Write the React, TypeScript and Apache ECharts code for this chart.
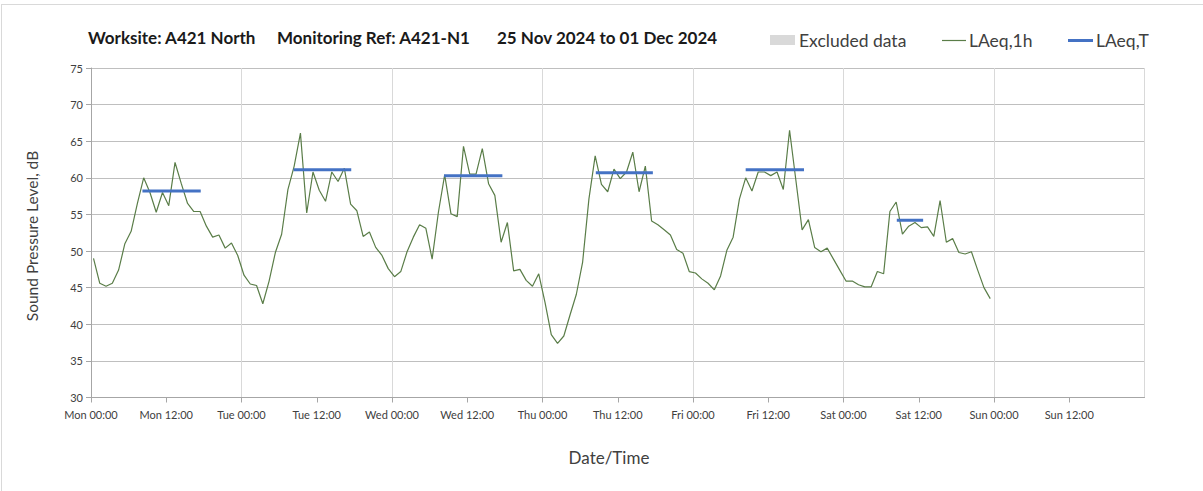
import React, { useEffect, useRef } from "react";
import * as echarts from "echarts";

// Hourly LAeq,1h values (dB), one per hour starting Mon 00:00
const laeq1h: number[] = [
  // Mon
  49, 45.6, 45.2, 45.6, 47.4, 51, 52.7, 56.5, 60, 58, 55.3, 58, 56.2, 62.1, 59.2, 56.5,
  55.4, 55.4, 53.4, 51.9, 52.2, 50.4, 51.1, 49.4,
  // Tue
  46.7, 45.5, 45.3, 42.8, 45.9, 49.8, 52.3, 58.4, 61.6, 66.1, 55.2, 60.8, 58.3, 56.8, 60.8, 59.5,
  61.3, 56.4, 55.5, 52, 52.6, 50.5, 49.4, 47.6,
  // Wed
  46.5, 47.2, 49.9, 51.9, 53.6, 53.1, 48.9, 55.3, 60.4, 55.1, 54.7, 64.3, 60.5, 60.5, 64, 59.2,
  57.6, 51.2, 53.9, 47.3, 47.5, 46, 45.2, 46.9,
  // Thu
  43, 38.6, 37.4, 38.4, 41.3, 44.1, 48.5, 57.1, 63, 59.1, 58.1, 61.2, 59.9, 60.8, 63.5, 58.1,
  61.6, 54.1, 53.6, 52.9, 52.2, 50.2, 49.7, 47.2,
  // Fri
  47, 46.2, 45.6, 44.7, 46.6, 50.1, 51.9, 57.1, 60, 58.2, 60.8, 60.8, 60.3, 60.8, 58.4, 66.5,
  59.7, 52.9, 54.3, 50.5, 49.9, 50.4, 48.9, 47.4,
  // Sat
  45.9, 45.9, 45.4, 45.1, 45.1, 47.2, 46.9, 55.4, 56.7, 52.3, 53.4, 53.9, 53.2, 53.3, 52, 56.9,
  51.2, 51.7, 49.8, 49.6, 49.9, 47.4, 45, 43.5,
];

// LAeq,T periods (hours from Mon 00:00) and values (dB)
const laeqTStart: number[] = [8.2, 32.3, 56.3, 80.5, 104.4, 128.5];
const laeqTEnd: number[] = [17.5, 41.5, 65.6, 89.6, 113.7, 132.7];
const laeqTValues: number[] = [58.2, 61.1, 60.3, 60.7, 61.1, 54.2];

// X tick labels every 12 hours
const xTickLabels: string[] = [
  "Mon 00:00", "Mon 12:00", "Tue 00:00", "Tue 12:00", "Wed 00:00", "Wed 12:00",
  "Thu 00:00", "Thu 12:00", "Fri 00:00", "Fri 12:00", "Sat 00:00", "Sat 12:00",
  "Sun 00:00", "Sun 12:00",
];

const titleParts: string[] = [
  "Worksite: A421 North",
  "Monitoring Ref: A421-N1",
  "25 Nov 2024 to 01 Dec 2024",
];
const legendNames: string[] = ["Excluded data", "LAeq,1h", "LAeq,T"];

const X_SHIFT = 0.4; // hourly values plotted slightly after the hour start
const GREEN = "#5a7d48";
const BLUE = "#4472C4";
const FONT = "Lato, 'Open Sans', sans-serif";

export default function App() {
  const ref = useRef<HTMLDivElement>(null);

  useEffect(() => {
    if (!ref.current) return;
    const chart = echarts.init(ref.current, undefined, { renderer: "svg" });

    const mainData = laeq1h.map((v, i) => [i + X_SHIFT, v]);
    const tSeries = laeqTValues.map((v, i) => ({
      name: "LAeq,T",
      type: "line",
      xAxisIndex: 0,
      yAxisIndex: 0,
      data: [
        [laeqTStart[i], v],
        [laeqTEnd[i], v],
      ],
      showSymbol: false,
      symbol: "none",
      lineStyle: { color: BLUE, width: 3, cap: "butt" },
      z: 5,
    }));

    chart.setOption({
      animation: false,
      backgroundColor: "#ffffff",
      grid: { left: 91, right: 58.5, top: 68, bottom: 93.5, containLabel: false },
      xAxis: [
        {
          type: "value",
          min: 0,
          max: 168,
          interval: 12,
          axisLine: { show: true, lineStyle: { color: "#a6a6a6", width: 1 } },
          axisTick: { show: true, length: 5, inside: false, lineStyle: { color: "#a6a6a6" } },
          axisLabel: {
            show: true,
            margin: 11,
            color: "#404040",
            fontFamily: FONT,
            fontSize: 11,
            formatter: (v: number) => xTickLabels[Math.round(v / 12)] ?? "",
            showMaxLabel: false,
          },
          splitLine: { show: false },
        },
        {
          type: "value",
          min: 0,
          max: 168,
          interval: 24,
          position: "bottom",
          axisLine: { show: false },
          axisTick: { show: false },
          axisLabel: { show: false },
          splitLine: { show: true, lineStyle: { color: "#d9d9d9", width: 1 } },
        },
      ],
      yAxis: {
        type: "value",
        min: 30,
        max: 75,
        interval: 5,
        axisLine: { show: true, lineStyle: { color: "#a6a6a6", width: 1 } },
        axisTick: { show: true, length: 5, inside: false, lineStyle: { color: "#a6a6a6" } },
        axisLabel: { color: "#404040", fontFamily: FONT, fontSize: 11, margin: 8 },
        splitLine: { show: true, lineStyle: { color: "#bfbfbf", width: 1 } },
      },
      series: [
        {
          name: "LAeq,1h",
          type: "line",
          xAxisIndex: 0,
          yAxisIndex: 0,
          data: mainData,
          showSymbol: false,
          symbol: "none",
          lineStyle: { color: GREEN, width: 1.2 },
          z: 4,
        },
        ...tSeries,
      ],
      graphic: [
        // outer border (top/left visible)
        { type: "line", shape: { x1: 1, y1: 4.5, x2: 1203, y2: 4.5 }, style: { stroke: "#d9d9d9", lineWidth: 1 } },
        { type: "line", shape: { x1: 1.5, y1: 4, x2: 1.5, y2: 491 }, style: { stroke: "#d9d9d9", lineWidth: 1 } },
        // title
        { type: "text", x: 88, y: 37, style: { text: titleParts[0], fill: "#1a1a1a", font: `bold 17px ${FONT}`, verticalAlign: "middle" } },
        { type: "text", x: 277, y: 37, style: { text: titleParts[1], fill: "#1a1a1a", font: `bold 17px ${FONT}`, verticalAlign: "middle" } },
        { type: "text", x: 497, y: 37, style: { text: titleParts[2], fill: "#1a1a1a", font: `bold 17px ${FONT}`, verticalAlign: "middle" } },
        // legend
        { type: "rect", shape: { x: 770, y: 35, width: 25, height: 10 }, style: { fill: "#d9d9d9" } },
        { type: "text", x: 799, y: 40.5, style: { text: legendNames[0], fill: "#404040", font: `17.5px ${FONT}`, verticalAlign: "middle" } },
        { type: "line", shape: { x1: 942, y1: 40.5, x2: 966, y2: 40.5 }, style: { stroke: GREEN, lineWidth: 1.2 } },
        { type: "text", x: 969, y: 40.5, style: { text: legendNames[1], fill: "#404040", font: `17.5px ${FONT}`, verticalAlign: "middle" } },
        { type: "line", shape: { x1: 1068, y1: 40.5, x2: 1093, y2: 40.5 }, style: { stroke: BLUE, lineWidth: 3 } },
        { type: "text", x: 1096, y: 40.5, style: { text: legendNames[2], fill: "#404040", font: `17.5px ${FONT}`, verticalAlign: "middle" } },
        // axis names
        { type: "text", x: 609, y: 457, style: { text: "Date/Time", fill: "#404040", font: `17px ${FONT}`, align: "center", verticalAlign: "middle" } },
        { type: "text", x: 32, y: 236, rotation: Math.PI / 2, style: { text: "Sound Pressure Level, dB", fill: "#404040", font: `15.5px ${FONT}`, align: "center", verticalAlign: "middle" } },
      ],
    });

    return () => chart.dispose();
  }, []);

  return (
    <div
      ref={ref}
      style={{ position: "absolute", left: 0, top: 0, width: 1203, height: 491 }}
    />
  );
}
